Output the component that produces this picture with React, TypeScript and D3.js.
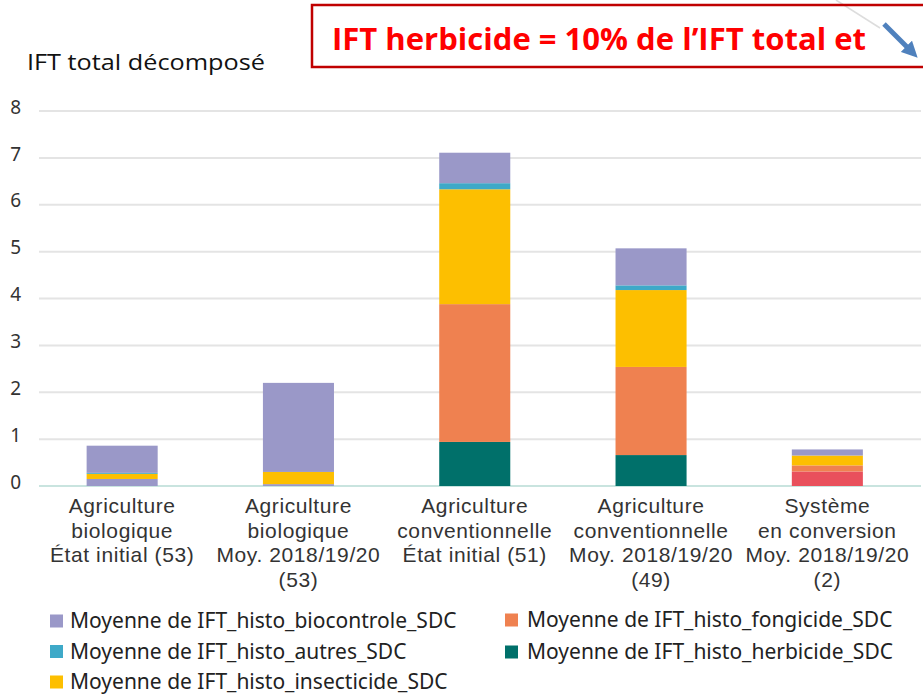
import React from 'react';
import * as d3 from 'd3';

const categories = [
  ['Agriculture', 'biologique', 'État initial (53)'],
  ['Agriculture', 'biologique', 'Moy. 2018/19/20', '(53)'],
  ['Agriculture', 'conventionnelle', 'État initial (51)'],
  ['Agriculture', 'conventionnelle', 'Moy. 2018/19/20', '(49)'],
  ['Système', 'en conversion', 'Moy. 2018/19/20', '(2)'],
];

// unlabelled bottom segment seen in the picture
const socle = [0.15, 0.04, 0, 0, 0.31];
const herbicide = [0, 0, 0.94, 0.66, 0];
const fongicide = [0, 0, 2.94, 1.88, 0.13];
const insecticide = [0.11, 0.26, 2.45, 1.64, 0.21];
const autres = [0.02, 0, 0.13, 0.1, 0];
const biocontrole = [0.58, 1.9, 0.65, 0.79, 0.13];

const yTicks = [0, 1, 2, 3, 4, 5, 6, 7, 8];

const seriesKeys = ['socle', 'herbicide', 'fongicide', 'insecticide', 'autres', 'biocontrole'];
const colors: Record<string, string> = {
  herbicide: '#00706a',
  fongicide: '#ef8150',
  insecticide: '#fdbf00',
  autres: '#3ea9c8',
  biocontrole: '#9a98c8',
};
const socleColors = ['#9a98c8', '#9a98c8', '#9a98c8', '#9a98c8', '#e9505c'];

const legendLeft = [
  { key: 'biocontrole', label: 'Moyenne de IFT_histo_biocontrole_SDC' },
  { key: 'autres', label: 'Moyenne de IFT_histo_autres_SDC' },
  { key: 'insecticide', label: 'Moyenne de IFT_histo_insecticide_SDC' },
];
const legendRight = [
  { key: 'fongicide', label: 'Moyenne de IFT_histo_fongicide_SDC' },
  { key: 'herbicide', label: 'Moyenne de IFT_histo_herbicide_SDC' },
];

const W = 923;
const H = 694;
const FONT = '"Noto Sans", sans-serif';
const LABEL_FONT = '"Liberation Sans", Arial, sans-serif';

export default function App() {
  const rows = categories.map((c, i) => ({
    idx: i,
    socle: socle[i],
    herbicide: herbicide[i],
    fongicide: fongicide[i],
    insecticide: insecticide[i],
    autres: autres[i],
    biocontrole: biocontrole[i],
  }));

  const stacked = d3.stack<any>().keys(seriesKeys)(rows);

  const x = d3.scaleBand<number>()
    .domain(rows.map(r => r.idx))
    .range([34, 915.5])
    .paddingInner(0.597)
    .paddingOuter(0.2985);

  const y = d3.scaleLinear().domain([0, 8]).range([486, 111]);

  return (
    <svg width={W} height={H} style={{ position: 'fixed', left: 0, top: 0, background: '#fff' }}>
      <rect width={W} height={H} fill="#fff" />

      {/* gridlines */}
      {yTicks.map(t => (
        <g key={t}>
          <line x1={39} x2={921} y1={y(t)} y2={y(t)}
            stroke={t === 0 ? '#c9e4df' : '#e4e4e4'} strokeWidth={2} />
          <text x={21} y={y(t) - 4} dy="0.35em" textAnchor="end"
            fontFamily={FONT} fontSize={19} fill="#333">{t}</text>
        </g>
      ))}

      {/* bars */}
      {stacked.map(layer => (
        <g key={layer.key}>
          {layer.map((d, i) => {
            const h = y(d[0]) - y(d[1]);
            if (h <= 0) return null;
            const fill = layer.key === 'socle' ? socleColors[i] : colors[layer.key];
            return (
              <rect key={i} x={x(i)} width={x.bandwidth()} y={y(d[1])} height={h} fill={fill} />
            );
          })}
        </g>
      ))}

      {/* category labels */}
      {categories.map((lines, i) => (
        <text key={i} x={(x(i) ?? 0) + x.bandwidth() / 2} textAnchor="middle"
          fontFamily={LABEL_FONT} fontSize={21} letterSpacing={0.6} fill="#333">
          {lines.map((l, j) => (
            <tspan key={j} x={(x(i) ?? 0) + x.bandwidth() / 2} y={513 + j * 24.7}>{l}</tspan>
          ))}
        </text>
      ))}

      {/* legend */}
      {legendLeft.map((l, i) => (
        <g key={l.key} transform={`translate(50, ${621 + i * 30.5})`}>
          <rect x={0} y={-6.5} width={13} height={13} fill={colors[l.key]} />
          <text x={20} y={0} dy="0.35em" fontFamily={FONT} fontSize={21} fill="#222">{l.label}</text>
        </g>
      ))}
      {legendRight.map((l, i) => (
        <g key={l.key} transform={`translate(505, ${620 + i * 32})`}>
          <rect x={0} y={-6.5} width={13} height={13} fill={colors[l.key]} />
          <text x={22} y={0} dy="0.35em" fontFamily={FONT} fontSize={21} fill="#222">{l.label}</text>
        </g>
      ))}

      {/* y title */}
      <text x={27} y={70} fontFamily='"Open Sans", sans-serif' fontSize={21} fill="#111"
        textLength={238} lengthAdjust="spacingAndGlyphs">IFT total décomposé</text>

      {/* red callout */}
      <line x1={836} y1={0} x2={880} y2={28} stroke="#ddd" strokeWidth={1.5} />
      <rect x={312} y={5} width={640} height={62} fill="none" stroke="#c00000" strokeWidth={2.5} />
      <text x={332} y={50} fontFamily='"Open Sans", sans-serif' fontWeight={700} fontSize={31} fill="#ff0000"
        textLength={534} lengthAdjust="spacingAndGlyphs">IFT herbicide = 10% de l’IFT total et</text>
      <defs>
        <marker id="ah" viewBox="0 0 10 10" refX={5} refY={5} markerWidth={3.2} markerHeight={3.2} orient="auto">
          <path d="M0,0 L10,5 L0,10 z" fill="#4f81bd" />
        </marker>
      </defs>
      <line x1={884} y1={24} x2={912} y2={52} stroke="#4f81bd" strokeWidth={5} markerEnd="url(#ah)" />
    </svg>
  );
}
